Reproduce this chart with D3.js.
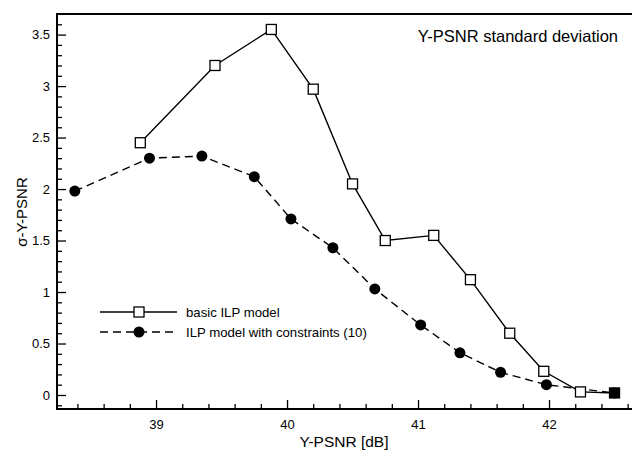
<!DOCTYPE html>
<html>
<head>
<meta charset="utf-8">
<script src="https://cdn.jsdelivr.net/npm/d3@7"></script>
<style>
  body { margin: 0; background: #fff; }
  svg { font-family: "Liberation Sans", Arial, Helvetica, sans-serif; }
</style>
</head>
<body>
<div id="chart"></div>
<script>
// Chart data

const basicX = [38.88, 39.45, 39.88, 40.20, 40.50, 40.75, 41.12, 41.40, 41.70, 41.96, 42.24, 42.50];   // Y-PSNR of basic ILP model
const basicY = [2.45, 3.20, 3.55, 2.97, 2.05, 1.50, 1.55, 1.12, 0.60, 0.23, 0.03, 0.02];             // Std deviation of basic ILP model
const consX  = [38.38, 38.95, 39.35, 39.75, 40.03, 40.35, 40.67, 41.02, 41.32, 41.63, 41.98, 42.50];  // Y-PSNR of model with constraints
const consY  = [1.98, 2.30, 2.32, 2.12, 1.71, 1.43, 1.03, 0.68, 0.41, 0.22, 0.10, 0.02];             // Std deviation of model with constraints
const xTicks = [39, 40, 41, 42];                                                                      // Labelled x ticks
const yTicks = [0, 0.5, 1, 1.5, 2, 2.5, 3, 3.5];                                                      // Labelled y ticks
const seriesNames = ["basic ILP model", "ILP model with constraints (10)"];

// Dimensions

const W = 632, H = 450;
const plotLeft = 57, plotTop = 14, plotBottom = 409;

const svg = d3.select("#chart").append("svg")
    .attr("width", W)
    .attr("height", H);

// Scales (42 tick at ~549 px, 131 px per dB)

const x = d3.scaleLinear().domain([38.244, 42.7]).range([plotLeft, plotLeft + (42.7 - 38.244) * 131]);
const y = d3.scaleLinear().domain([-0.136, 3.70]).range([plotBottom, plotTop]);

// Minor ticks

const xMinor = d3.range(38.4, 42.7, 0.2).filter(v => Math.abs(v - Math.round(v)) > 0.01);
const yMinor = d3.range(-0.1, 3.7, 0.1).filter(v => Math.abs(v * 2 - Math.round(v * 2)) > 0.01);

svg.append("g")
    .attr("transform", "translate(0," + plotBottom + ")")
    .call(d3.axisBottom(x).tickValues(xMinor).tickSize(-5).tickFormat(""))
    .call(g => g.select(".domain").remove());

svg.append("g")
    .attr("transform", "translate(" + plotLeft + ",0)")
    .call(d3.axisLeft(y).tickValues(yMinor).tickSize(-5).tickFormat(""))
    .call(g => g.select(".domain").remove());

// Major ticks with labels

svg.append("g")
    .attr("transform", "translate(0," + plotBottom + ")")
    .call(d3.axisBottom(x).tickValues(xTicks).tickSize(-9).tickPadding(11).tickFormat(d3.format("d")))
    .call(g => g.select(".domain").remove());

svg.append("g")
    .attr("transform", "translate(" + plotLeft + ",0)")
    .call(d3.axisLeft(y).tickValues(yTicks).tickSize(-9).tickPadding(7).tickFormat(d => String(d)))
    .call(g => g.select(".domain").remove());

svg.selectAll(".tick line").attr("stroke", "#000").attr("stroke-width", 1.3);
svg.selectAll(".tick text").attr("font-size", 13).attr("fill", "#000")
    .attr("font-family", "'Liberation Sans', Arial, sans-serif");

// Frame (left, top, bottom; the right side is cut off)

svg.append("path")
    .attr("d", "M" + W + "," + plotTop + "H" + plotLeft + "V" + plotBottom + "H" + W)
    .attr("fill", "none")
    .attr("stroke", "#000")
    .attr("stroke-width", 2);

// Lines

const line = d3.line().x(d => x(d[0])).y(d => y(d[1]));
const basic = basicX.map((v, i) => [v, basicY[i]]);
const cons  = consX.map((v, i) => [v, consY[i]]);

svg.append("path")
    .datum(basic)
    .attr("d", line)
    .attr("fill", "none")
    .attr("stroke", "#000")
    .attr("stroke-width", 1.4);

svg.append("path")
    .datum(cons)
    .attr("d", line)
    .attr("fill", "none")
    .attr("stroke", "#000")
    .attr("stroke-width", 1.4)
    .attr("stroke-dasharray", "8,5");

// Markers

svg.selectAll(".dot")
    .data(cons)
    .enter()
    .append("circle")
        .attr("cx", d => x(d[0]))
        .attr("cy", d => y(d[1]))
        .attr("r", 5.5)
        .attr("fill", "#000");

svg.selectAll(".sq")
    .data(basic)
    .enter()
    .append("rect")
        .attr("x", d => x(d[0]) - 5)
        .attr("y", d => y(d[1]) - 5)
        .attr("width", 10)
        .attr("height", 10)
        .attr("fill", d => consX.includes(d[0]) ? "#000" : "#fff")     // overlapping end point shows filled
        .attr("stroke", "#000")
        .attr("stroke-width", 1.3);

// Legend

const legend = svg.append("g").attr("transform", "translate(100,312)");

legend.append("line").attr("x1", 0).attr("x2", 77).attr("y1", 0).attr("y2", 0)
    .attr("stroke", "#000").attr("stroke-width", 1.4);
legend.append("rect").attr("x", 34).attr("y", -5).attr("width", 10).attr("height", 10)
    .attr("fill", "#fff").attr("stroke", "#000").attr("stroke-width", 1.3);
legend.append("line").attr("x1", 0).attr("x2", 77).attr("y1", 20).attr("y2", 20)
    .attr("stroke", "#000").attr("stroke-width", 1.4).attr("stroke-dasharray", "8,5");
legend.append("circle").attr("cx", 39).attr("cy", 20).attr("r", 5.5).attr("fill", "#000");

legend.selectAll("text")
    .data(seriesNames)
    .enter()
    .append("text")
        .attr("x", 86)
        .attr("y", (d, i) => i * 20)
        .attr("dy", "0.35em")
        .attr("font-size", 13.2)
        .text(d => d);

// Title and axis labels

svg.append("text")
    .attr("x", 618)
    .attr("y", 36)
    .attr("dy", "0.35em")
    .attr("text-anchor", "end")
    .attr("font-size", 16.5)
    .text("Y-PSNR standard deviation");

svg.append("text")
    .attr("x", 344)
    .attr("y", 442)
    .attr("dy", "0.35em")
    .attr("text-anchor", "middle")
    .attr("font-size", 15.5)
    .text("Y-PSNR [dB]");

svg.append("text")
    .attr("transform", "translate(22,212) rotate(-90)")
    .attr("dy", "0.35em")
    .attr("text-anchor", "middle")
    .attr("font-size", 15)
    .text("σ-Y-PSNR");
</script>
</body>
</html>
